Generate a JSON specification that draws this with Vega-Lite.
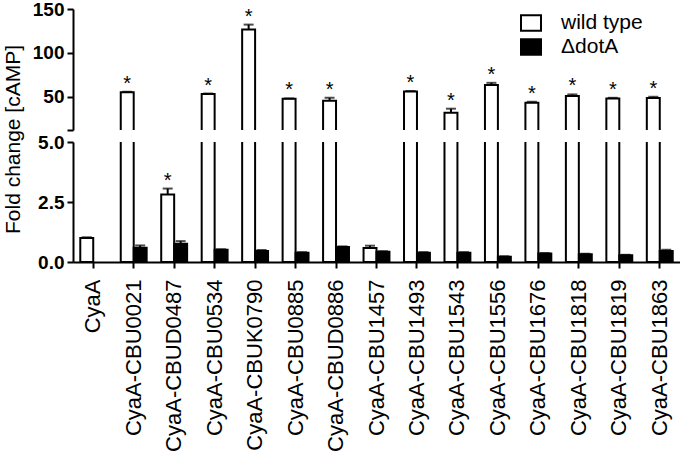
{
  "$schema": "https://vega.github.io/schema/vega-lite/v6.json",
  "padding": {"left": 2, "top": 0, "right": 0, "bottom": 0},
  "background": "white",
  "config": {
    "font": "Liberation Sans",
    "view": {"stroke": null},
    "axis": {"domainColor": "black", "tickColor": "black", "labelColor": "black", "titleColor": "black", "domainWidth": 2, "tickWidth": 2, "tickSize": 6, "grid": false}
  },
  "datasets": {
    "bars": [
      {"construct": "CyaA", "strain": "wild type", "mean": 1.0, "upper": 1.03, "sig": ""},
      {"construct": "CyaA-CBU0021", "strain": "wild type", "mean": 55, "upper": 55.6, "sig": "*"},
      {"construct": "CyaA-CBU0021", "strain": "ΔdotA", "mean": 0.59, "upper": 0.69, "sig": ""},
      {"construct": "CyaA-CBUD0487", "strain": "wild type", "mean": 2.81, "upper": 3.06, "sig": "*"},
      {"construct": "CyaA-CBUD0487", "strain": "ΔdotA", "mean": 0.76, "upper": 0.87, "sig": ""},
      {"construct": "CyaA-CBU0534", "strain": "wild type", "mean": 53, "upper": 53.6, "sig": "*"},
      {"construct": "CyaA-CBU0534", "strain": "ΔdotA", "mean": 0.51, "upper": 0.53, "sig": ""},
      {"construct": "CyaA-CBUK0790", "strain": "wild type", "mean": 126.7, "upper": 132.2, "sig": "*"},
      {"construct": "CyaA-CBUK0790", "strain": "ΔdotA", "mean": 0.46, "upper": 0.5, "sig": ""},
      {"construct": "CyaA-CBU0885", "strain": "wild type", "mean": 47.5, "upper": 48.0, "sig": "*"},
      {"construct": "CyaA-CBU0885", "strain": "ΔdotA", "mean": 0.39, "upper": 0.41, "sig": ""},
      {"construct": "CyaA-CBUD0886", "strain": "wild type", "mean": 45.5, "upper": 48.7, "sig": "*"},
      {"construct": "CyaA-CBUD0886", "strain": "ΔdotA", "mean": 0.62, "upper": 0.65, "sig": ""},
      {"construct": "CyaA-CBU1457", "strain": "wild type", "mean": 0.58, "upper": 0.68, "sig": ""},
      {"construct": "CyaA-CBU1457", "strain": "ΔdotA", "mean": 0.43, "upper": 0.45, "sig": ""},
      {"construct": "CyaA-CBU1493", "strain": "wild type", "mean": 56, "upper": 56.5, "sig": "*"},
      {"construct": "CyaA-CBU1493", "strain": "ΔdotA", "mean": 0.39, "upper": 0.41, "sig": ""},
      {"construct": "CyaA-CBU1543", "strain": "wild type", "mean": 31.8, "upper": 36.3, "sig": "*"},
      {"construct": "CyaA-CBU1543", "strain": "ΔdotA", "mean": 0.39, "upper": 0.41, "sig": ""},
      {"construct": "CyaA-CBU1556", "strain": "wild type", "mean": 63.3, "upper": 65.8, "sig": "*"},
      {"construct": "CyaA-CBU1556", "strain": "ΔdotA", "mean": 0.22, "upper": 0.24, "sig": ""},
      {"construct": "CyaA-CBU1676", "strain": "wild type", "mean": 43.2, "upper": 44.2, "sig": "*"},
      {"construct": "CyaA-CBU1676", "strain": "ΔdotA", "mean": 0.35, "upper": 0.37, "sig": ""},
      {"construct": "CyaA-CBU1818", "strain": "wild type", "mean": 50.8, "upper": 52.6, "sig": "*"},
      {"construct": "CyaA-CBU1818", "strain": "ΔdotA", "mean": 0.32, "upper": 0.34, "sig": ""},
      {"construct": "CyaA-CBU1819", "strain": "wild type", "mean": 48, "upper": 48.7, "sig": "*"},
      {"construct": "CyaA-CBU1819", "strain": "ΔdotA", "mean": 0.28, "upper": 0.3, "sig": ""},
      {"construct": "CyaA-CBU1863", "strain": "wild type", "mean": 48.5, "upper": 49.9, "sig": "*"},
      {"construct": "CyaA-CBU1863", "strain": "ΔdotA", "mean": 0.46, "upper": 0.51, "sig": ""}
    ]
  },
  "data": {"name": "bars"},
  "vconcat": [
    {
      "width": 607,
      "height": 121,
      "encoding": {
        "x": {"field": "construct", "type": "nominal", "sort": null, "axis": null,
              "scale": {"paddingInner": 0.36, "paddingOuter": 0.18}},
        "xOffset": {"field": "strain", "type": "nominal", "scale": {"domain": ["wild type", "ΔdotA"], "paddingInner": 0, "paddingOuter": 0}}
      },
      "layer": [
        {
          "mark": {"type": "bar", "stroke": "black", "strokeWidth": 2, "clip": true},
          "encoding": {
            "y": {"field": "mean", "type": "quantitative", "scale": {"domain": [12, 150], "nice": false, "zero": false},
                  "axis": {"values": [12, 50, 100, 150], "labelExpr": "datum.value < 20 ? '' : datum.label", "title": null,
                           "labelFontSize": 19, "labelFontWeight": "bold", "labelPadding": 3}},
            "fill": {"field": "strain", "type": "nominal",
                     "scale": {"domain": ["wild type", "ΔdotA"], "range": ["#ffffff", "#000000"]},
                     "legend": {"title": null, "orient": "none", "legendX": 447, "legendY": 3, "padding": 0,
                                "symbolType": "M-1,-0.78L1,-0.78L1,0.78L-1,0.78Z", "symbolSize": 400,
                                "symbolStrokeColor": "black", "symbolStrokeWidth": 2,
                                "labelFontSize": 21, "labelColor": "black", "labelOffset": 19, "rowPadding": 0}}
          }
        },
        {
          "mark": {"type": "rule", "color": "black", "strokeWidth": 2, "clip": true},
          "encoding": {"y": {"field": "mean", "type": "quantitative"}, "y2": {"field": "upper"}}
        },
        {
          "mark": {"type": "tick", "color": "black", "thickness": 2, "size": 10, "orient": "horizontal", "clip": true},
          "encoding": {"y": {"field": "upper", "type": "quantitative"}}
        },
        {
          "transform": [{"filter": "datum.sig == '*' && datum.mean > 12"}],
          "mark": {"type": "text", "fontSize": 20, "baseline": "alphabetic", "dy": -2, "color": "black"},
          "encoding": {"y": {"field": "upper", "type": "quantitative"}, "text": {"field": "sig"}}
        }
      ]
    },
    {
      "width": 607,
      "height": 120,
      "encoding": {
        "x": {"field": "construct", "type": "nominal", "sort": null,
              "scale": {"paddingInner": 0.36, "paddingOuter": 0.18},
              "axis": {"title": null, "labelAngle": -90, "labelFontSize": 22, "labelPadding": 11, "labelAlign": "right", "labelBaseline": "middle"}},
        "xOffset": {"field": "strain", "type": "nominal", "scale": {"domain": ["wild type", "ΔdotA"], "paddingInner": 0, "paddingOuter": 0}}
      },
      "layer": [
        {
          "mark": {"type": "bar", "stroke": "black", "strokeWidth": 2, "clip": true},
          "encoding": {
            "y": {"field": "mean", "type": "quantitative", "scale": {"domain": [0, 5], "nice": false},
                  "axis": {"values": [0, 2.5, 5], "format": ".1f", "title": "Fold change [cAMP]",
                           "labelFontSize": 19, "labelFontWeight": "bold", "labelPadding": 3,
                           "titleFontSize": 21, "titleFontWeight": "normal", "titleY": -3, "titlePadding": 14}},
            "fill": {"field": "strain", "type": "nominal",
                     "scale": {"domain": ["wild type", "ΔdotA"], "range": ["#ffffff", "#000000"]}, "legend": null}
          }
        },
        {
          "mark": {"type": "rule", "color": "black", "strokeWidth": 2, "clip": true},
          "encoding": {"y": {"field": "mean", "type": "quantitative"}, "y2": {"field": "upper"}}
        },
        {
          "mark": {"type": "tick", "color": "black", "thickness": 2, "size": 10, "orient": "horizontal", "clip": true},
          "encoding": {"y": {"field": "upper", "type": "quantitative"}}
        },
        {
          "transform": [{"filter": "datum.sig == '*' && datum.mean < 5"}],
          "mark": {"type": "text", "fontSize": 20, "baseline": "alphabetic", "dy": -2, "color": "black"},
          "encoding": {"y": {"field": "upper", "type": "quantitative"}, "text": {"field": "sig"}}
        }
      ]
    }
  ],
  "spacing": 12,
  "bounds": "flush",
  "resolve": {"legend": {"fill": "independent"}}
}
